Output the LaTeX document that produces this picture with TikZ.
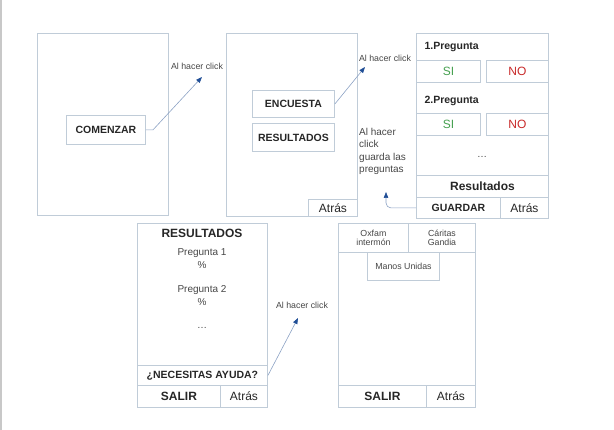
\documentclass[tikz,border=0pt]{standalone}
\usepackage{fontspec}
\setmainfont{Liberation Sans}
\usetikzlibrary{arrows.meta,positioning}
\definecolor{marco}{RGB}{192,204,216}
\definecolor{linea}{RGB}{140,162,196}
\definecolor{punta}{RGB}{32,78,150}
\definecolor{txt}{RGB}{38,38,38}
\definecolor{gris}{RGB}{70,70,70}
\definecolor{sicol}{RGB}{70,160,80}
\definecolor{nocol}{RGB}{200,40,40}
\definecolor{borde}{RGB}{200,200,200}
\newcommand{\fs}[1]{\fontsize{#1}{#1}\selectfont}
\tikzset{
  pant/.style={draw=marco, line width=0.9pt, inner sep=0pt, anchor=north west},
  btn/.style={pant, font=\fs{10.5}\bfseries, text=txt},
  btnr/.style={pant, font=\fs{12}, text=txt},
  org/.style={pant, font=\fs{8.8}, text=gris, align=center},
  tit/.style={font=\fs{12}\bfseries, text=txt},
  txtr/.style={font=\fs{10}, text=gris, align=center},
  clk/.style={font=\fs{8.8}, text=gris},
  flecha/.style={-{Triangle[length=6pt, width=4.5pt, color=punta]}, linea, line width=0.6pt},
}
\begin{document}
\begin{tikzpicture}[x=1pt,y=-1pt]
\useasboundingbox (0,0) rectangle (614,430);
\draw[borde, line width=2pt] (1,0) -- (1,430);

% pantalla inicio
\node[pant, minimum width=131, minimum height=182] (inicio) at (37,33) {};
\node[btn, minimum width=79, minimum height=29] (comenzar) at (66,115) {COMENZAR};
\coordinate (t1) at (202,77);
\node[clk] (c1) at (197,66) {Al hacer click};
\draw[flecha] (comenzar.east) -- ++(7,0) -- (t1);

% pantalla menu
\node[pant, minimum width=131, minimum height=183] (menu) at (226,33) {};
\node[btn, minimum width=82, minimum height=27] (encuesta) at (252,90) {ENCUESTA};
\node[btn, minimum width=82, minimum height=28] (resul) at (252,123) {RESULTADOS};
\node[btnr, minimum width=49, minimum height=17] (atras2) at (308,199) {Atrás};
\coordinate (t2) at (365,67);
\node[clk] (c2) at (385,58) {Al hacer click};
\draw[flecha] (encuesta.east) -- (t2);

% pantalla encuesta
\node[pant, minimum width=132, minimum height=185] (enc) at (416,33) {};
\node[font=\fs{10.5}\bfseries, text=txt, anchor=west] (p1) at (421,47) {1.Pregunta};
\node[btnr, text=sicol, minimum width=64, minimum height=22] (si1) at (416,60) {SI};
\node[btnr, text=nocol, minimum width=62, minimum height=22] (no1) at (486,60) {NO};
\node[font=\fs{10.5}\bfseries, text=txt, anchor=west] (p2) at (421,101) {2.Pregunta};
\node[btnr, text=sicol, minimum width=64, minimum height=22] (si2) at (416,113) {SI};
\node[btnr, text=nocol, minimum width=62, minimum height=22] (no2) at (486,113) {NO};
\node[txtr] (pts3) at (482,157) {\dots};
\node[pant, font=\fs{12}\bfseries, text=txt, minimum width=132, minimum height=22] (resul3) at (416,175) {Resultados};
\node[btn, minimum width=84, minimum height=21] (guardar) at (416,197) {GUARDAR};
\node[btnr, minimum width=48, minimum height=21] (atras3) at (500,197) {Atrás};
\node[font=\fs{10}, text=gris, align=left, anchor=north west, inner sep=0pt] (c3) at (359,128) {Al hacer\\[2.5pt]click\\[2.5pt]guarda las\\[2.5pt]preguntas};
\coordinate (t3) at (386,192);
\draw[flecha, rounded corners=5pt] (guardar.west) -| (t3);

% pantalla resultados
\node[pant, minimum width=130, minimum height=184] (res) at (137,223) {};
\node[tit] (rtit) at (202,233) {RESULTADOS};
\node[txtr] (rp1) at (202,253) {Pregunta 1};
\node[txtr] (rpc1) at (202,265) {\%};
\node[txtr] (rp2) at (202,290) {Pregunta 2};
\node[txtr] (rpc2) at (202,302) {\%};
\node[txtr] (pts4) at (202,328) {\dots};
\node[btn, minimum width=130, minimum height=20] (ayuda) at (137,365) {¿NECESITAS AYUDA?};
\node[pant, font=\fs{12}\bfseries, text=txt, minimum width=83, minimum height=22] (salir4) at (137,385) {SALIR};
\node[btnr, minimum width=47, minimum height=22] (atras4) at (220,385) {Atrás};
\coordinate (t4) at (298,318);
\node[clk] (c4) at (302,305) {Al hacer click};
\draw[flecha] (ayuda.east) -- (t4);

% pantalla ayuda
\node[pant, minimum width=137, minimum height=184] (ong) at (338,223) {};
\node[org, minimum width=70, minimum height=29] (oxfam) at (338,223) {Oxfam\\intermón};
\node[org, minimum width=67, minimum height=29] (caritas) at (408,223) {Cáritas\\Gandia};
\node[org, minimum width=72, minimum height=28] (manos) at (367,252) {Manos Unidas};
\node[pant, font=\fs{12}\bfseries, text=txt, minimum width=88, minimum height=22] (salir5) at (338,385) {SALIR};
\node[btnr, minimum width=49, minimum height=22] (atras5) at (426,385) {Atrás};
\end{tikzpicture}
\end{document}
